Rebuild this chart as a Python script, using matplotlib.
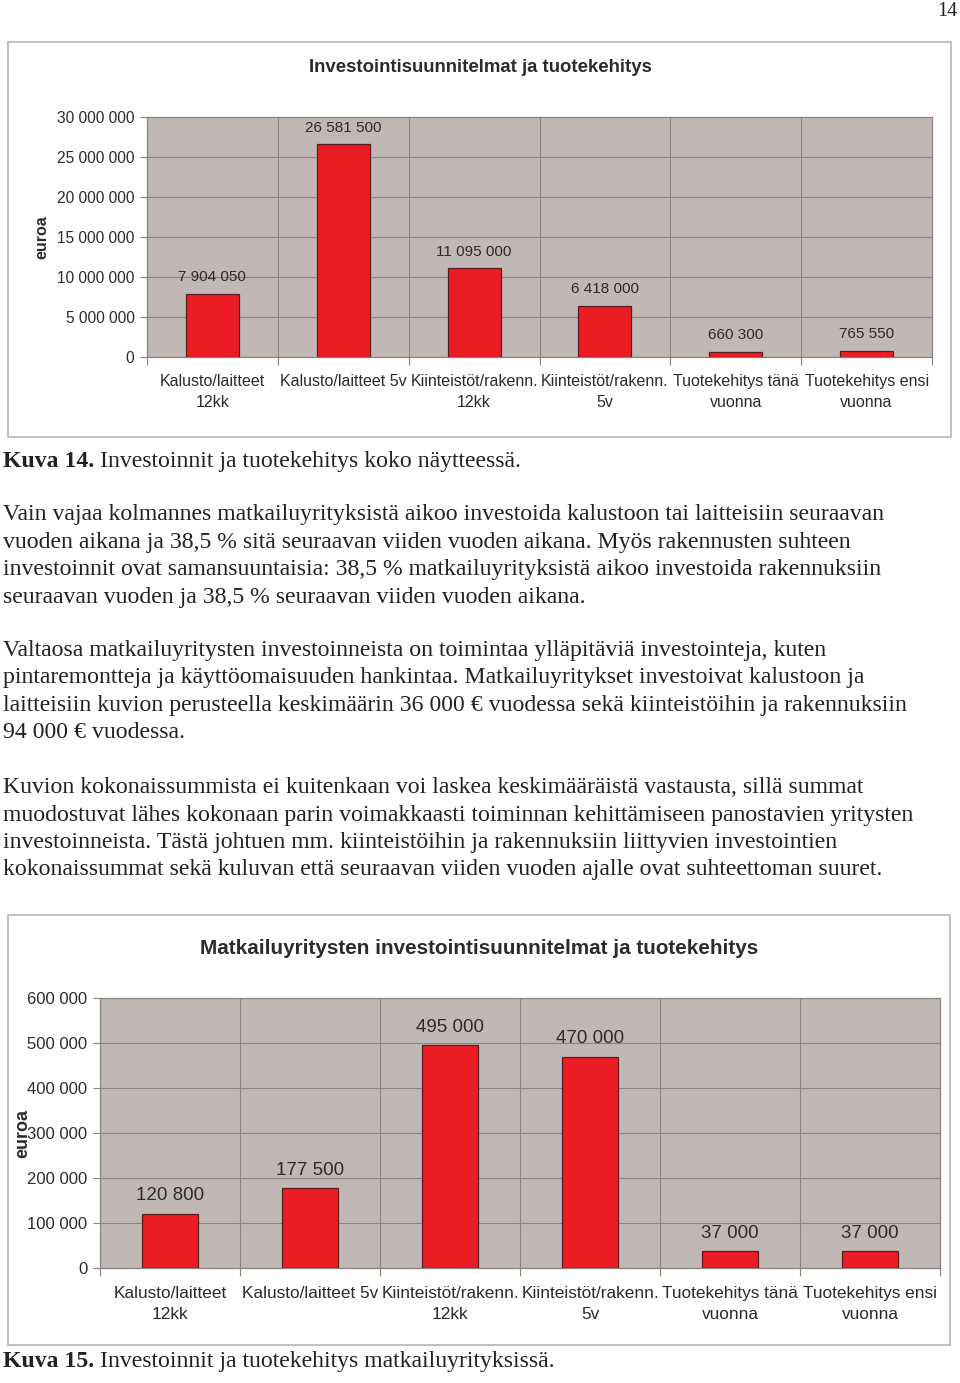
import matplotlib
matplotlib.use("Agg")
import matplotlib.pyplot as plt
from matplotlib.patches import Rectangle

W, H = 960, 1383

# data
cats = ["Kalusto/laitteet\n12kk", "Kalusto/laitteet 5v", "Kiinteistöt/rakenn.\n12kk",
        "Kiinteistöt/rakenn.\n5v", "Tuotekehitys tänä\nvuonna", "Tuotekehitys ensi\nvuonna"]
vals_all = [7904050, 26581500, 11095000, 6418000, 660300, 765550]
vals_matk = [120800, 177500, 495000, 470000, 37000, 37000]
ticks_all = [0, 5000000, 10000000, 15000000, 20000000, 25000000, 30000000]
ticks_matk = [0, 100000, 200000, 300000, 400000, 500000, 600000]

title_all = "Investointisuunnitelmat ja tuotekehitys"
title_matk = "Matkailuyritysten investointisuunnitelmat ja tuotekehitys"

para1 = ["Vain vajaa kolmannes matkailuyrityksistä aikoo investoida kalustoon tai laitteisiin seuraavan",
         "vuoden aikana ja 38,5 % sitä seuraavan viiden vuoden aikana. Myös rakennusten suhteen",
         "investoinnit ovat samansuuntaisia: 38,5 % matkailuyrityksistä aikoo investoida rakennuksiin",
         "seuraavan vuoden ja 38,5 % seuraavan viiden vuoden aikana."]
para2 = ["Valtaosa matkailuyritysten investoinneista on toimintaa ylläpitäviä investointeja, kuten",
         "pintaremontteja ja käyttöomaisuuden hankintaa. Matkailuyritykset investoivat kalustoon ja",
         "laitteisiin kuvion perusteella keskimäärin 36 000 € vuodessa sekä kiinteistöihin ja rakennuksiin",
         "94 000 € vuodessa."]
para3 = ["Kuvion kokonaissummista ei kuitenkaan voi laskea keskimääräistä vastausta, sillä summat",
         "muodostuvat lähes kokonaan parin voimakkaasti toiminnan kehittämiseen panostavien yritysten",
         "investoinneista. Tästä johtuen mm. kiinteistöihin ja rakennuksiin liittyvien investointien",
         "kokonaissummat sekä kuluvan että seuraavan viiden vuoden ajalle ovat suhteettoman suuret."]

SANS = "Liberation Sans"
SERIF = "Liberation Serif"
BG = "#c1b8b5"
RED = "#ec1c24"
GRID = "#8a8381"
TXT = "#2b2b2b"
BODY_FS = 17.1

fig = plt.figure(figsize=(W / 100, H / 100), dpi=100)


def fx(x):
    return x / W


def fy(y):
    return 1 - y / H


def frame(x0, y0, x1, y1):
    fig.patches.append(Rectangle((fx(x0), fy(y1)), fx(x1 - x0), (y1 - y0) / H,
                                 transform=fig.transFigure, fill=False,
                                 edgecolor="#b4b4b4", lw=1.2))


def bar_chart(box, vals, yticks, tick_fs, cat_fs, val_fs, bw, val_off, cat_pad):
    l, t, r, b = box
    ax = fig.add_axes([fx(l), fy(b), fx(r - l), (b - t) / H])
    ax.set_facecolor(BG)
    x = list(range(len(vals)))
    ax.bar(x, vals, width=bw, color=RED, edgecolor="#5a1c1c", lw=0.9, zorder=3)
    ax.set_xlim(-0.5, len(vals) - 0.5)
    ax.set_ylim(yticks[0], yticks[-1])
    ax.set_yticks(yticks)
    ax.set_yticklabels([f"{v:,}".replace(",", " ") for v in yticks],
                       fontsize=tick_fs, family=SANS, color=TXT)
    ax.set_xticks(x)
    ax.set_xticklabels(cats, fontsize=cat_fs, family=SANS, color=TXT, linespacing=1.5)
    ax.tick_params(axis="x", which="major", length=0, pad=cat_pad)
    ax.set_xticks([i + 0.5 for i in range(-1, len(vals))], minor=True)
    ax.tick_params(axis="x", which="minor", length=6, color=GRID, width=0.8)
    ax.tick_params(axis="y", length=5, color=GRID, width=0.8, pad=4)
    ax.grid(True, axis="y", which="major", color=GRID, lw=0.8, zorder=0)
    ax.grid(True, axis="x", which="minor", color=GRID, lw=0.8, zorder=0)
    for s in ax.spines.values():
        s.set_color(GRID)
        s.set_linewidth(0.9)
    for i, v in enumerate(vals):
        ax.annotate(f"{v:,}".replace(",", " "), (i, v), xytext=(0, val_off),
                    textcoords="offset points", ha="center", va="center",
                    fontsize=val_fs, family=SANS, color=TXT, zorder=4)
    return ax


# page number
fig.text(fx(957), fy(16), "14", ha="right", va="baseline", fontsize=14.5, family=SERIF, color="#222222")

# chart 1
frame(8, 42, 951, 437)
fig.text(fx(480), fy(68), title_all, ha="center", va="center", fontsize=13.4,
         family=SANS, weight="bold", color=TXT)
bar_chart((147, 117, 932, 357), vals_all, ticks_all, 11.2, 11.5, 11, 0.405, 12, 12)
fig.text(fx(42), fy(237), "euroa", rotation=90, ha="center", va="center",
         fontsize=11.5, family=SANS, weight="bold", color=TXT)

# caption 14
fig.text(fx(3), fy(467), "Kuva 14.", ha="left", va="baseline", fontsize=BODY_FS,
         family=SERIF, weight="bold", color="#222222")
fig.text(fx(100), fy(467), "Investoinnit ja tuotekehitys koko näytteessä.", ha="left",
         va="baseline", fontsize=BODY_FS, family=SERIF, color="#222222")

# body text
for base, lines in ((520, para1), (656, para2), (793, para3)):
    for k, line in enumerate(lines):
        fig.text(fx(3), fy(base + k * 27.5), line, ha="left", va="baseline",
                 fontsize=BODY_FS, family=SERIF, color="#222222")

# chart 2
frame(8, 915, 950, 1345)
fig.text(fx(479), fy(949), title_matk, ha="center", va="center", fontsize=14.85,
         family=SANS, weight="bold", color=TXT)
bar_chart((100, 998, 940, 1268), vals_matk, ticks_matk, 12, 12.4, 13.5, 0.4, 13, 13)
fig.text(fx(23), fy(1133), "euroa", rotation=90, ha="center", va="center",
         fontsize=13, family=SANS, weight="bold", color=TXT)

# caption 15
fig.text(fx(3), fy(1367), "Kuva 15.", ha="left", va="baseline", fontsize=BODY_FS,
         family=SERIF, weight="bold", color="#222222")
fig.text(fx(100), fy(1367), "Investoinnit ja tuotekehitys matkailuyrityksissä.", ha="left",
         va="baseline", fontsize=BODY_FS, family=SERIF, color="#222222")

fig.savefig("out.png", dpi=100, facecolor="white")
